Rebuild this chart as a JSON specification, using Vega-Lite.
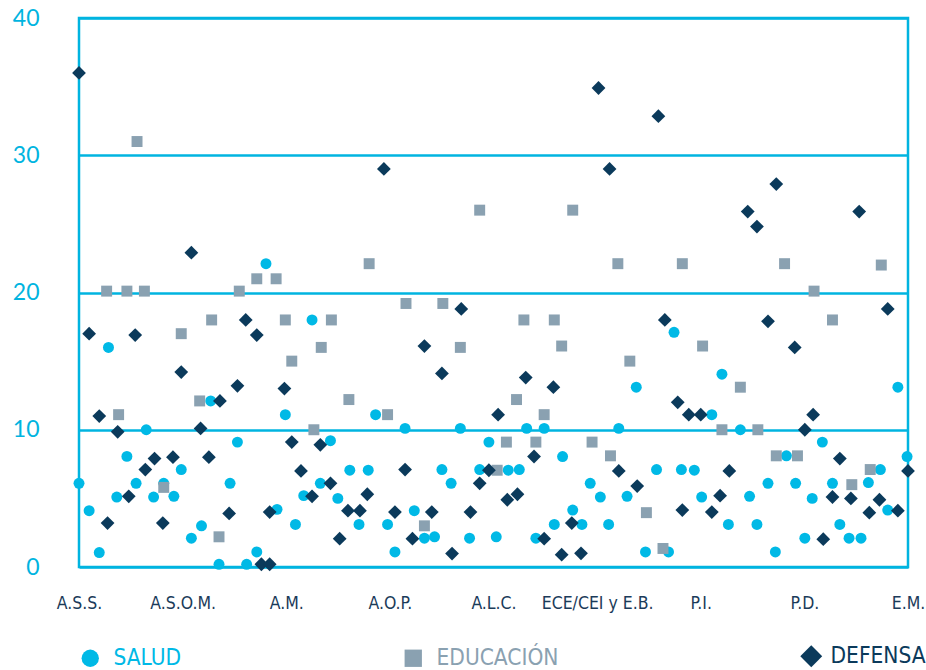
{
  "$schema": "https://vega.github.io/schema/vega-lite/v6.json",
  "autosize": {"type": "none"},
  "width": 829,
  "height": 549,
  "padding": {"left": 79, "top": 18, "right": 18, "bottom": 103},
  "background": "white",
  "config": {
    "view": {"stroke": "#00B4E0", "strokeWidth": 2.5},
    "font": "Liberation Sans Narrow, DejaVu Sans Condensed, sans-serif"
  },
  "datasets": {
    "salud": [
      {"serie":"SALUD","posicion":0,"valor":6.1},{"serie":"SALUD","posicion":1.1,"valor":4.1},{"serie":"SALUD","posicion":2.2,"valor":1.05},{"serie":"SALUD","posicion":3.2,"valor":16.0},{"serie":"SALUD","posicion":4.1,"valor":5.1},{"serie":"SALUD","posicion":5.2,"valor":8.06},{"serie":"SALUD","posicion":6.2,"valor":6.1},{"serie":"SALUD","posicion":7.3,"valor":10.0},{"serie":"SALUD","posicion":8.1,"valor":5.1},{"serie":"SALUD","posicion":9.2,"valor":6.1},{"serie":"SALUD","posicion":10.3,"valor":5.15},{"serie":"SALUD","posicion":11.1,"valor":7.1},{"serie":"SALUD","posicion":12.2,"valor":2.1},{"serie":"SALUD","posicion":13.3,"valor":3.0},{"serie":"SALUD","posicion":14.3,"valor":12.1},{"serie":"SALUD","posicion":15.2,"valor":0.2},{"serie":"SALUD","posicion":16.4,"valor":6.1},{"serie":"SALUD","posicion":17.2,"valor":9.1},{"serie":"SALUD","posicion":18.2,"valor":0.2},{"serie":"SALUD","posicion":19.3,"valor":1.1},{"serie":"SALUD","posicion":20.3,"valor":22.1},{"serie":"SALUD","posicion":21.5,"valor":4.2},{"serie":"SALUD","posicion":22.4,"valor":11.1},{"serie":"SALUD","posicion":23.5,"valor":3.1},{"serie":"SALUD","posicion":24.4,"valor":5.2},{"serie":"SALUD","posicion":25.3,"valor":18.0},{"serie":"SALUD","posicion":26.2,"valor":6.1},{"serie":"SALUD","posicion":27.3,"valor":9.2},{"serie":"SALUD","posicion":28.1,"valor":5.0},{"serie":"SALUD","posicion":29.4,"valor":7.05},{"serie":"SALUD","posicion":30.4,"valor":3.1},{"serie":"SALUD","posicion":31.4,"valor":7.05},{"serie":"SALUD","posicion":32.2,"valor":11.1},{"serie":"SALUD","posicion":33.5,"valor":3.1},{"serie":"SALUD","posicion":34.3,"valor":1.1},{"serie":"SALUD","posicion":35.4,"valor":10.1},{"serie":"SALUD","posicion":36.4,"valor":4.1},{"serie":"SALUD","posicion":37.5,"valor":2.1},{"serie":"SALUD","posicion":38.6,"valor":2.2},{"serie":"SALUD","posicion":39.4,"valor":7.1},{"serie":"SALUD","posicion":40.4,"valor":6.1},{"serie":"SALUD","posicion":41.4,"valor":10.1},{"serie":"SALUD","posicion":42.4,"valor":2.1},{"serie":"SALUD","posicion":43.5,"valor":7.1},{"serie":"SALUD","posicion":44.5,"valor":9.1},{"serie":"SALUD","posicion":45.3,"valor":2.2},{"serie":"SALUD","posicion":46.6,"valor":7.05},{"serie":"SALUD","posicion":47.8,"valor":7.1},{"serie":"SALUD","posicion":48.6,"valor":10.1},{"serie":"SALUD","posicion":49.6,"valor":2.1},{"serie":"SALUD","posicion":50.5,"valor":10.1},{"serie":"SALUD","posicion":51.6,"valor":3.1},{"serie":"SALUD","posicion":52.5,"valor":8.05},{"serie":"SALUD","posicion":53.6,"valor":4.15},{"serie":"SALUD","posicion":54.6,"valor":3.1},{"serie":"SALUD","posicion":55.5,"valor":6.1},{"serie":"SALUD","posicion":56.6,"valor":5.1},{"serie":"SALUD","posicion":57.5,"valor":3.1},{"serie":"SALUD","posicion":58.6,"valor":10.1},{"serie":"SALUD","posicion":59.5,"valor":5.15},{"serie":"SALUD","posicion":60.5,"valor":13.1},{"serie":"SALUD","posicion":61.5,"valor":1.1},{"serie":"SALUD","posicion":62.7,"valor":7.1},{"serie":"SALUD","posicion":64.0,"valor":1.1},{"serie":"SALUD","posicion":64.6,"valor":17.1},{"serie":"SALUD","posicion":65.4,"valor":7.1},{"serie":"SALUD","posicion":66.8,"valor":7.05},{"serie":"SALUD","posicion":67.6,"valor":5.1},{"serie":"SALUD","posicion":68.7,"valor":11.1},{"serie":"SALUD","posicion":69.8,"valor":14.05},{"serie":"SALUD","posicion":70.5,"valor":3.1},{"serie":"SALUD","posicion":71.8,"valor":10.0},{"serie":"SALUD","posicion":72.8,"valor":5.15},{"serie":"SALUD","posicion":73.6,"valor":3.1},{"serie":"SALUD","posicion":74.8,"valor":6.1},{"serie":"SALUD","posicion":75.6,"valor":1.1},{"serie":"SALUD","posicion":76.8,"valor":8.1},{"serie":"SALUD","posicion":77.8,"valor":6.1},{"serie":"SALUD","posicion":78.8,"valor":2.1},{"serie":"SALUD","posicion":79.6,"valor":5.0},{"serie":"SALUD","posicion":80.7,"valor":9.1},{"serie":"SALUD","posicion":81.8,"valor":6.1},{"serie":"SALUD","posicion":82.6,"valor":3.1},{"serie":"SALUD","posicion":83.6,"valor":2.1},{"serie":"SALUD","posicion":84.9,"valor":2.1},{"serie":"SALUD","posicion":85.7,"valor":6.15},{"serie":"SALUD","posicion":87.0,"valor":7.1},{"serie":"SALUD","posicion":87.8,"valor":4.15},{"serie":"SALUD","posicion":88.9,"valor":13.1},{"serie":"SALUD","posicion":89.9,"valor":8.05}
    ],
    "educacion": [
      {"serie":"EDUCACIÓN","posicion":3.0,"valor":20.1},{"serie":"EDUCACIÓN","posicion":4.3,"valor":11.1},{"serie":"EDUCACIÓN","posicion":5.2,"valor":20.1},{"serie":"EDUCACIÓN","posicion":6.3,"valor":31.0},{"serie":"EDUCACIÓN","posicion":7.1,"valor":20.1},{"serie":"EDUCACIÓN","posicion":9.2,"valor":5.8},{"serie":"EDUCACIÓN","posicion":11.1,"valor":17.0},{"serie":"EDUCACIÓN","posicion":13.1,"valor":12.1},{"serie":"EDUCACIÓN","posicion":14.4,"valor":18.0},{"serie":"EDUCACIÓN","posicion":15.2,"valor":2.2},{"serie":"EDUCACIÓN","posicion":17.4,"valor":20.1},{"serie":"EDUCACIÓN","posicion":19.3,"valor":21.0},{"serie":"EDUCACIÓN","posicion":21.4,"valor":21.0},{"serie":"EDUCACIÓN","posicion":22.4,"valor":18.0},{"serie":"EDUCACIÓN","posicion":23.1,"valor":15.0},{"serie":"EDUCACIÓN","posicion":25.5,"valor":10.0},{"serie":"EDUCACIÓN","posicion":26.3,"valor":16.0},{"serie":"EDUCACIÓN","posicion":27.4,"valor":18.0},{"serie":"EDUCACIÓN","posicion":29.3,"valor":12.2},{"serie":"EDUCACIÓN","posicion":31.5,"valor":22.1},{"serie":"EDUCACIÓN","posicion":33.5,"valor":11.1},{"serie":"EDUCACIÓN","posicion":35.5,"valor":19.2},{"serie":"EDUCACIÓN","posicion":37.5,"valor":3.0},{"serie":"EDUCACIÓN","posicion":39.5,"valor":19.2},{"serie":"EDUCACIÓN","posicion":41.4,"valor":16.0},{"serie":"EDUCACIÓN","posicion":43.5,"valor":26.0},{"serie":"EDUCACIÓN","posicion":45.4,"valor":7.05},{"serie":"EDUCACIÓN","posicion":46.4,"valor":9.1},{"serie":"EDUCACIÓN","posicion":47.5,"valor":12.2},{"serie":"EDUCACIÓN","posicion":48.3,"valor":18.0},{"serie":"EDUCACIÓN","posicion":49.6,"valor":9.1},{"serie":"EDUCACIÓN","posicion":50.5,"valor":11.1},{"serie":"EDUCACIÓN","posicion":51.6,"valor":18.0},{"serie":"EDUCACIÓN","posicion":52.4,"valor":16.1},{"serie":"EDUCACIÓN","posicion":53.6,"valor":26.0},{"serie":"EDUCACIÓN","posicion":55.7,"valor":9.1},{"serie":"EDUCACIÓN","posicion":57.7,"valor":8.1},{"serie":"EDUCACIÓN","posicion":58.5,"valor":22.1},{"serie":"EDUCACIÓN","posicion":59.8,"valor":15.0},{"serie":"EDUCACIÓN","posicion":61.6,"valor":3.96},{"serie":"EDUCACIÓN","posicion":63.4,"valor":1.35},{"serie":"EDUCACIÓN","posicion":65.5,"valor":22.1},{"serie":"EDUCACIÓN","posicion":67.7,"valor":16.1},{"serie":"EDUCACIÓN","posicion":69.8,"valor":10.0},{"serie":"EDUCACIÓN","posicion":71.8,"valor":13.1},{"serie":"EDUCACIÓN","posicion":73.7,"valor":10.0},{"serie":"EDUCACIÓN","posicion":75.7,"valor":8.1},{"serie":"EDUCACIÓN","posicion":76.6,"valor":22.1},{"serie":"EDUCACIÓN","posicion":78.0,"valor":8.1},{"serie":"EDUCACIÓN","posicion":79.8,"valor":20.1},{"serie":"EDUCACIÓN","posicion":81.8,"valor":18.0},{"serie":"EDUCACIÓN","posicion":83.9,"valor":6.0},{"serie":"EDUCACIÓN","posicion":85.9,"valor":7.1},{"serie":"EDUCACIÓN","posicion":87.1,"valor":22.0}
    ],
    "defensa": [
      {"serie":"DEFENSA","posicion":0.0,"valor":36.0},{"serie":"DEFENSA","posicion":1.1,"valor":17.0},{"serie":"DEFENSA","posicion":2.2,"valor":11.0},{"serie":"DEFENSA","posicion":3.1,"valor":3.2},{"serie":"DEFENSA","posicion":4.2,"valor":9.85},{"serie":"DEFENSA","posicion":5.4,"valor":5.15},{"serie":"DEFENSA","posicion":6.1,"valor":16.9},{"serie":"DEFENSA","posicion":7.2,"valor":7.1},{"serie":"DEFENSA","posicion":8.2,"valor":7.9},{"serie":"DEFENSA","posicion":9.1,"valor":3.2},{"serie":"DEFENSA","posicion":10.2,"valor":8.0},{"serie":"DEFENSA","posicion":11.1,"valor":14.2},{"serie":"DEFENSA","posicion":12.2,"valor":22.9},{"serie":"DEFENSA","posicion":13.2,"valor":10.1},{"serie":"DEFENSA","posicion":14.1,"valor":8.0},{"serie":"DEFENSA","posicion":15.3,"valor":12.1},{"serie":"DEFENSA","posicion":16.3,"valor":3.9},{"serie":"DEFENSA","posicion":17.2,"valor":13.2},{"serie":"DEFENSA","posicion":18.1,"valor":18.0},{"serie":"DEFENSA","posicion":19.3,"valor":16.9},{"serie":"DEFENSA","posicion":19.8,"valor":0.2},{"serie":"DEFENSA","posicion":20.7,"valor":0.2},{"serie":"DEFENSA","posicion":20.7,"valor":4.0},{"serie":"DEFENSA","posicion":22.3,"valor":13.0},{"serie":"DEFENSA","posicion":23.1,"valor":9.1},{"serie":"DEFENSA","posicion":24.1,"valor":7.0},{"serie":"DEFENSA","posicion":25.3,"valor":5.15},{"serie":"DEFENSA","posicion":26.2,"valor":8.9},{"serie":"DEFENSA","posicion":27.3,"valor":6.1},{"serie":"DEFENSA","posicion":28.3,"valor":2.06},{"serie":"DEFENSA","posicion":29.2,"valor":4.1},{"serie":"DEFENSA","posicion":30.5,"valor":4.1},{"serie":"DEFENSA","posicion":31.3,"valor":5.3},{"serie":"DEFENSA","posicion":33.1,"valor":29.0},{"serie":"DEFENSA","posicion":34.3,"valor":4.0},{"serie":"DEFENSA","posicion":35.4,"valor":7.1},{"serie":"DEFENSA","posicion":36.2,"valor":2.06},{"serie":"DEFENSA","posicion":37.5,"valor":16.1},{"serie":"DEFENSA","posicion":38.3,"valor":4.0},{"serie":"DEFENSA","posicion":39.4,"valor":14.1},{"serie":"DEFENSA","posicion":40.5,"valor":0.98},{"serie":"DEFENSA","posicion":41.5,"valor":18.8},{"serie":"DEFENSA","posicion":42.5,"valor":4.0},{"serie":"DEFENSA","posicion":43.5,"valor":6.1},{"serie":"DEFENSA","posicion":44.5,"valor":7.05},{"serie":"DEFENSA","posicion":45.5,"valor":11.1},{"serie":"DEFENSA","posicion":46.5,"valor":4.9},{"serie":"DEFENSA","posicion":47.6,"valor":5.3},{"serie":"DEFENSA","posicion":48.5,"valor":13.8},{"serie":"DEFENSA","posicion":49.4,"valor":8.05},{"serie":"DEFENSA","posicion":50.5,"valor":2.06},{"serie":"DEFENSA","posicion":51.5,"valor":13.1},{"serie":"DEFENSA","posicion":52.4,"valor":0.9},{"serie":"DEFENSA","posicion":53.5,"valor":3.2},{"serie":"DEFENSA","posicion":54.5,"valor":1.0},{"serie":"DEFENSA","posicion":56.4,"valor":34.9},{"serie":"DEFENSA","posicion":57.6,"valor":29.0},{"serie":"DEFENSA","posicion":58.6,"valor":7.0},{"serie":"DEFENSA","posicion":60.6,"valor":5.9},{"serie":"DEFENSA","posicion":62.9,"valor":32.85},{"serie":"DEFENSA","posicion":63.6,"valor":18.0},{"serie":"DEFENSA","posicion":65.0,"valor":12.0},{"serie":"DEFENSA","posicion":65.5,"valor":4.15},{"serie":"DEFENSA","posicion":66.2,"valor":11.1},{"serie":"DEFENSA","posicion":67.5,"valor":11.1},{"serie":"DEFENSA","posicion":68.7,"valor":4.0},{"serie":"DEFENSA","posicion":69.6,"valor":5.2},{"serie":"DEFENSA","posicion":70.6,"valor":7.0},{"serie":"DEFENSA","posicion":72.6,"valor":25.9},{"serie":"DEFENSA","posicion":73.6,"valor":24.8},{"serie":"DEFENSA","posicion":74.8,"valor":17.9},{"serie":"DEFENSA","posicion":75.7,"valor":27.9},{"serie":"DEFENSA","posicion":77.7,"valor":16.0},{"serie":"DEFENSA","posicion":78.8,"valor":10.0},{"serie":"DEFENSA","posicion":79.7,"valor":11.1},{"serie":"DEFENSA","posicion":80.8,"valor":2.03},{"serie":"DEFENSA","posicion":81.8,"valor":5.1},{"serie":"DEFENSA","posicion":82.6,"valor":7.9},{"serie":"DEFENSA","posicion":83.8,"valor":5.0},{"serie":"DEFENSA","posicion":84.7,"valor":25.9},{"serie":"DEFENSA","posicion":85.8,"valor":3.96},{"serie":"DEFENSA","posicion":86.9,"valor":4.9},{"serie":"DEFENSA","posicion":87.8,"valor":18.8},{"serie":"DEFENSA","posicion":88.9,"valor":4.1},{"serie":"DEFENSA","posicion":90.0,"valor":7.0}
    ]
  },
  "encoding": {
    "x": {
      "field": "posicion", "type": "quantitative",
      "scale": {"domain": [0, 90], "nice": false, "zero": false},
      "axis": {
        "title": null, "grid": false, "ticks": false, "domain": false,
        "values": [0, 11.25, 22.5, 33.75, 45, 56.25, 67.5, 78.75, 90],
        "labelExpr": "['A.S.S.','A.S.O.M.','A.M.','A.O.P.','A.L.C.','ECE/CEI y E.B.','P.I.','P.D.','E.M.'][round(datum.value/11.25)]",
        "labelFont": "Liberation Sans Narrow, DejaVu Sans Condensed, sans-serif",
        "labelFontSize": 17.5, "labelColor": "#1B3B5A", "labelPadding": 27,
        "labelFlush": false, "labelOverlap": false, "labelBound": false
      }
    },
    "y": {
      "field": "valor", "type": "quantitative",
      "scale": {"domain": [0, 40], "nice": false},
      "axis": {
        "title": null, "ticks": false, "domain": false,
        "values": [0, 10, 20, 30, 40],
        "grid": true, "gridColor": "#00B4E0", "gridWidth": 2.5, "gridOpacity": 1,
        "labelFont": "Lato, Open Sans, sans-serif",
        "labelFontSize": 23, "labelColor": "#00B4E0", "labelPadding": 40,
        "labelFlush": false, "labelBaseline": "middle"
      }
    }
  },
  "layer": [
    {
      "data": {"name": "salud"},
      "mark": {"type": "point", "filled": true, "opacity": 1, "size": 120, "clip": false},
      "encoding": {
        "color": {"field": "serie", "type": "nominal", "scale": {"domain": ["SALUD"], "range": ["#00B9E6"]},
          "legend": {"title": null, "orient": "none", "legendX": 0, "legendY": 629, "symbolSize": 300, "labelFontSize": 22.5, "labelColor": "#00B9E6", "labelOffset": 12, "labelFont": "Liberation Sans Narrow, DejaVu Sans Condensed, sans-serif", "symbolStrokeWidth": 0}},
        "shape": {"field": "serie", "type": "nominal", "scale": {"domain": ["SALUD"], "range": ["circle"]}, "legend": {"title": null, "orient": "none", "legendX": 0, "legendY": 629, "symbolSize": 300, "labelFontSize": 22.5, "labelColor": "#00B9E6", "labelOffset": 12, "labelFont": "Liberation Sans Narrow, DejaVu Sans Condensed, sans-serif", "symbolStrokeWidth": 0}}
      }
    },
    {
      "data": {"name": "educacion"},
      "mark": {"type": "point", "filled": true, "opacity": 1, "size": 120, "clip": false},
      "encoding": {
        "color": {"field": "serie", "type": "nominal", "scale": {"domain": ["EDUCACIÓN"], "range": ["#8AA1B1"]},
          "legend": {"title": null, "orient": "none", "legendX": 323, "legendY": 629, "symbolSize": 300, "labelFontSize": 22.5, "labelColor": "#8AA1B1", "labelOffset": 12, "labelFont": "Liberation Sans Narrow, DejaVu Sans Condensed, sans-serif", "symbolStrokeWidth": 0}},
        "shape": {"field": "serie", "type": "nominal", "scale": {"domain": ["EDUCACIÓN"], "range": ["square"]}, "legend": {"title": null, "orient": "none", "legendX": 323, "legendY": 629, "symbolSize": 300, "labelFontSize": 22.5, "labelColor": "#8AA1B1", "labelOffset": 12, "labelFont": "Liberation Sans Narrow, DejaVu Sans Condensed, sans-serif", "symbolStrokeWidth": 0}}
      }
    },
    {
      "data": {"name": "defensa"},
      "mark": {"type": "point", "filled": true, "opacity": 1, "size": 190, "clip": false},
      "encoding": {
        "color": {"field": "serie", "type": "nominal", "scale": {"domain": ["DEFENSA"], "range": ["#0B3A5B"]},
          "legend": {"title": null, "orient": "none", "legendX": 721, "legendY": 627, "symbolSize": 480, "labelFontSize": 22.5, "labelColor": "#0B3A5B", "labelOffset": 8, "labelFont": "Liberation Sans Narrow, DejaVu Sans Condensed, sans-serif", "symbolStrokeWidth": 0}},
        "shape": {"field": "serie", "type": "nominal", "scale": {"domain": ["DEFENSA"], "range": ["diamond"]}, "legend": {"title": null, "orient": "none", "legendX": 721, "legendY": 627, "symbolSize": 480, "labelFontSize": 22.5, "labelColor": "#0B3A5B", "labelOffset": 8, "labelFont": "Liberation Sans Narrow, DejaVu Sans Condensed, sans-serif", "symbolStrokeWidth": 0}}
      }
    }
  ],
  "resolve": {"scale": {"color": "independent", "shape": "independent"}}
}
